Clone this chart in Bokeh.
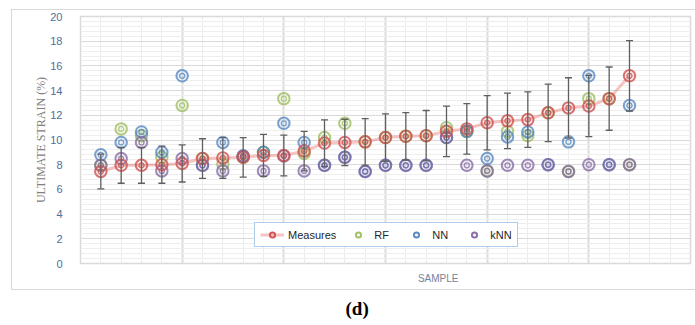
from bokeh.plotting import figure
from bokeh.models import (ColumnDataSource, Whisker, TeeHead, Legend, LegendItem,
                          SingleIntervalTicker, Range1d, Title, InlineStyleSheet)
from bokeh.embed import file_html
from bokeh.resources import INLINE

# ---------------- data ----------------
samples = list(range(1, 28))
measures = [7.45, 7.95, 7.95, 8.0, 8.1, 8.5, 8.55, 8.6, 8.75, 8.75, 9.1, 9.75, 9.8, 9.85,
            10.2, 10.3, 10.35, 10.7, 10.9, 11.4, 11.55, 11.65, 12.2, 12.6, 12.75, 13.35, 15.2]
errors = [1.4, 1.45, 1.45, 1.5, 1.5, 1.6, 1.65, 1.6, 1.7, 1.65, 1.6, 1.88, 1.88, 1.88,
          1.92, 1.92, 2.04, 2.05, 2.05, 2.2, 2.25, 2.25, 2.33, 2.44, 2.48, 2.56, 2.85]
rf = [7.95, 10.9, 10.35, 8.6, 12.8, 8.5, 8.05, 8.6, 9.0, 13.35, 8.9, 10.2, 11.35, 9.85,
      10.2, 10.3, 10.35, 11.0, 10.7, 7.5, 10.7, 10.35, 12.2, 7.45, 13.35, 13.35, 8.0]
nn = [8.8, 9.8, 10.65, 9.0, 15.2, 7.95, 9.8, 8.7, 9.0, 11.35, 9.8, 7.95, 8.6, 7.45,
      7.95, 7.95, 7.95, 10.2, 10.7, 8.5, 10.25, 10.65, 8.0, 9.85, 15.2, 8.0, 12.8]
knn = [7.95, 8.5, 9.8, 7.5, 8.5, 7.95, 7.5, 8.7, 7.5, 8.7, 7.5, 7.95, 8.6, 7.45,
       7.95, 7.95, 7.95, 10.2, 7.95, 7.5, 7.95, 7.95, 8.0, 7.45, 8.0, 8.0, 8.0]
series_names = ["Measures", "RF", "NN", "kNN"]
series_colors = ["#D0504D", "#9BBB59", "#4F81BD", "#8064A2"]
y_title = "ULTIMATE STRAIN (%)"
x_title = "SAMPLE"
caption = "(d)"

W, H = 694, 324
# light-gray outer chart box (drawn with CSS on the plot element)
box_css = InlineStyleSheet(css="""
:host::after {
  content: ""; position: absolute; left: 11px; top: 9px; width: 700px; height: 281px;
  border: 1px solid #D9D9D9; pointer-events: none; box-sizing: border-box;
}
""")
p = figure(width=W, height=H, output_backend="svg", toolbar_location=None,
           x_range=Range1d(0, 30), y_range=Range1d(0, 20),
           min_border_left=80, min_border_right=W - 690, min_border_top=16,
           min_border_bottom=H - 263, stylesheets=[box_css])
p.background_fill_color = "white"
p.border_fill_color = "white"
p.outline_line_color = "#D9D9D9"
p.outline_line_width = 1.5

# axes
p.xaxis.visible = False
p.yaxis.ticker = SingleIntervalTicker(interval=2, num_minor_ticks=5)
p.xaxis.ticker = SingleIntervalTicker(interval=5, num_minor_ticks=5)
ax = p.yaxis[0]
ax.axis_line_color = None
ax.major_tick_line_color = None
ax.minor_tick_line_color = None
ax.major_label_standoff = 12
ax.major_label_text_font = "Liberation Sans"
ax.major_label_text_font_size = "11px"
ax.major_label_text_color = "#4D6E9E"
ax.axis_label = y_title
ax.axis_label_text_font = "Liberation Serif"
ax.axis_label_text_font_style = "normal"
ax.axis_label_text_font_size = "12px"
ax.axis_label_text_color = "#808080"
ax.axis_label_standoff = -1

# grids
p.ygrid.grid_line_color = "#D9D9D9"
p.ygrid.grid_line_width = 1.2
p.ygrid.minor_grid_line_color = "#EEEEEE"
p.ygrid.minor_grid_line_width = 1
p.xgrid.grid_line_color = "#DCDCDC"
p.xgrid.grid_line_width = 2
p.xgrid.minor_grid_line_color = "#ECECEC"
p.xgrid.minor_grid_line_width = 1

src = ColumnDataSource(dict(
    x=samples, m=measures, rf=rf, nn=nn, knn=knn,
    up=[a + b for a, b in zip(measures, errors)],
    lo=[a - b for a, b in zip(measures, errors)],
))

# measures line + error bars
line_r = p.line("x", "m", source=src, line_color="#E87A78", line_alpha=0.45, line_width=3)
wh = Whisker(base="x", upper="up", lower="lo", source=src, line_color="#5F5F5F", line_width=1.3,
             upper_head=TeeHead(size=7, line_color="#5F5F5F", line_width=1.3),
             lower_head=TeeHead(size=7, line_color="#5F5F5F", line_width=1.3))
wh.level = "glyph"
p.add_layout(wh)

def rings(col, color, alpha=0.75):
    o = p.scatter("x", col, source=src, marker="circle", size=11.5, line_color=color,
                  line_width=2, line_alpha=alpha, fill_color=color, fill_alpha=0.08)
    i = p.scatter("x", col, source=src, marker="circle", size=5, line_color=color,
                  line_width=1.3, line_alpha=alpha, fill_alpha=0)
    return [o, i]

r_rf = rings("rf", series_colors[1])
r_nn = rings("nn", series_colors[2])
r_knn = rings("knn", series_colors[3])
r_m = rings("m", series_colors[0], alpha=0.8)

legend = Legend(items=[
    LegendItem(label=series_names[0], renderers=[line_r] + r_m),
    LegendItem(label=series_names[1], renderers=r_rf),
    LegendItem(label=series_names[2], renderers=r_nn),
    LegendItem(label=series_names[3], renderers=r_knn),
], orientation="horizontal", location=(174, 16))
legend.border_line_color = "#5B9BD5"
legend.border_line_width = 1.5
legend.background_fill_color = "white"
legend.background_fill_alpha = 1
legend.label_text_font = "Liberation Sans"
legend.label_text_font_size = "11px"
legend.label_text_color = "#262626"
legend.glyph_width = 24
legend.glyph_height = 13
legend.label_height = 13
legend.padding = 5
legend.spacing = 10
legend.label_standoff = 4
legend.margin = 0
p.add_layout(legend, "center")

# texts below the plot area
t_sample = Title(text=x_title, align="right", offset=232, standoff=15,
                 text_font="Liberation Sans", text_font_size="10px",
                 text_font_style="normal", text_color="#76829A")
p.add_layout(t_sample, "below")
t_cap = Title(text=caption, align="left", offset=265, standoff=9,
              text_font="Liberation Serif", text_font_size="19px",
              text_font_style="bold", text_color="#000000")
p.add_layout(t_cap, "below")

open("out.html", "w").write(file_html(p, INLINE))
